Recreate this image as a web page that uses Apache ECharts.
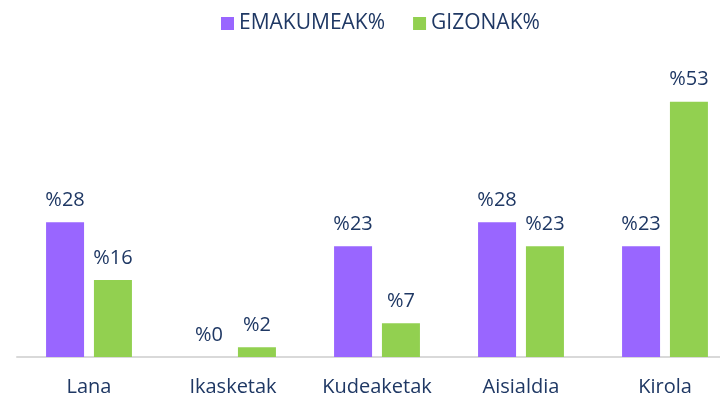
<!DOCTYPE html>
<html>
<head>
<meta charset="utf-8">
<script src="https://cdn.jsdelivr.net/npm/echarts@6/dist/echarts.min.js"></script>
<style>
  html, body { margin: 0; padding: 0; background: #fff; overflow: hidden; }
  #chart { width: 740px; height: 397px; }
</style>
</head>
<body>
<div id="chart"></div>
<script>
// Jarduera motak eta ehunekoak sexuaren arabera
const categories = ['Lana', 'Ikasketak', 'Kudeaketak', 'Aisialdia', 'Kirola'];
const emakumeak = [28, 0, 23, 28, 23];
const gizonak = [16, 2, 7, 23, 53];
const seriesNames = ['EMAKUMEAK%', 'GIZONAK%'];

const textColor = '#1f3864';
const fontFamily = '"Open Sans", "Noto Sans", sans-serif';

const chart = echarts.init(document.getElementById('chart'), null, { renderer: 'canvas' });

const labelStyle = {
  show: true,
  position: 'top',
  distance: 12,
  color: textColor,
  fontSize: 20,
  fontFamily: fontFamily,
  formatter: p => '%' + p.value
};

chart.setOption({
  animation: false,
  legend: {
    data: seriesNames,
    top: 8,
    left: 216,
    itemWidth: 13,
    itemHeight: 13,
    itemGap: 28,
    icon: 'rect',
    textStyle: { color: textColor, fontSize: 21, fontFamily: fontFamily }
  },
  grid: { left: 17, right: 3, top: 68, bottom: 40, containLabel: false },
  xAxis: {
    type: 'category',
    data: categories,
    axisLine: { lineStyle: { color: '#d9d9d9', width: 2 } },
    axisTick: { show: false },
    axisLabel: { color: textColor, fontSize: 20, fontFamily: fontFamily, margin: 20 }
  },
  yAxis: {
    type: 'value',
    min: 0,
    max: 60,
    show: false,
    splitLine: { show: false }
  },
  series: [
    {
      name: seriesNames[0],
      type: 'bar',
      data: emakumeak,
      barWidth: 38,
      barGap: '26%',
      itemStyle: { color: '#9966ff' },
      label: labelStyle
    },
    {
      name: seriesNames[1],
      type: 'bar',
      data: gizonak,
      barWidth: 38,
      itemStyle: { color: '#92d050' },
      label: labelStyle
    }
  ]
});
</script>
</body>
</html>
